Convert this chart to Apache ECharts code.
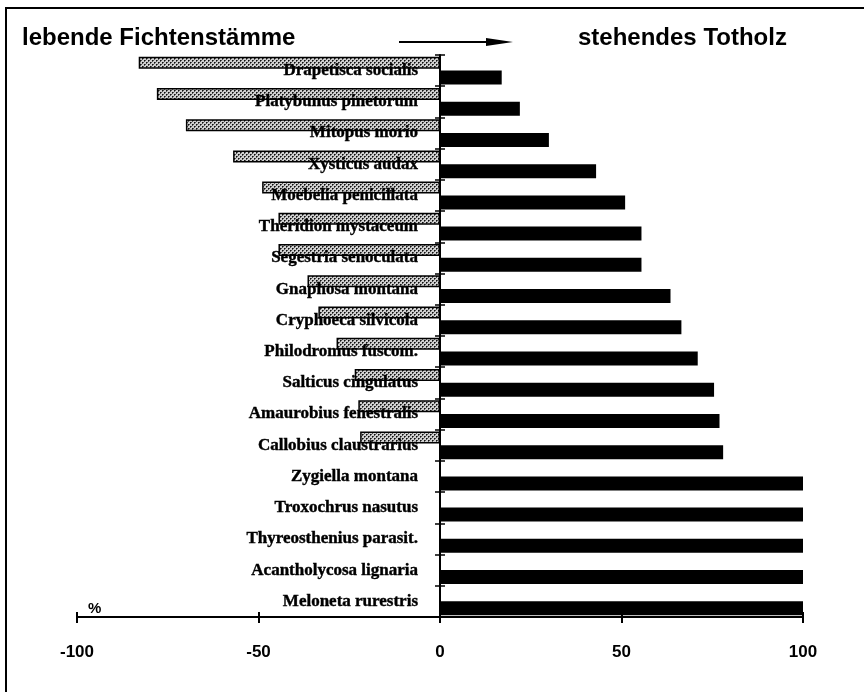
<!DOCTYPE html>
<html>
<head>
<meta charset="utf-8">
<script src="https://cdn.jsdelivr.net/npm/echarts@6/dist/echarts.min.js"></script>
<style>html,body{margin:0;padding:0;background:#fff}#c{width:864px;height:692px}</style>
</head>
<body>
<div id="c"></div>
<script>
// Species (top to bottom)
const species = [
  "Drapetisca socialis", "Platybunus pinetorum", "Mitopus morio", "Xysticus audax",
  "Moebelia penicillata", "Theridion mystaceum", "Segestria senoculata", "Gnaphosa montana",
  "Cryphoeca silvicola", "Philodromus fuscom.", "Salticus cingulatus", "Amaurobius fenestralis",
  "Callobius claustrarius", "Zygiella montana", "Troxochrus nasutus", "Thyreosthenius parasit.",
  "Acantholycosa lignaria", "Meloneta rurestris"
];
// % on living spruce trunks (drawn to the left)
const livingSpruce = [-83, -78, -70, -57, -49, -44.5, -44.5, -36.5, -33.5, -28.5, -23.5, -22.5, -22, 0, 0, 0, 0, 0];
// % on standing dead wood (drawn to the right)
const deadWood = [17, 22, 30, 43, 51, 55.5, 55.5, 63.5, 66.5, 71, 75.5, 77, 78, 100, 100, 100, 100, 100];
// x-axis tick labels
const xTicks = [-100, -50, 0, 50, 100];

function makePattern() {
  const c = document.createElement('canvas');
  c.width = 4; c.height = 4;
  const g = c.getContext('2d');
  g.fillStyle = '#cfcfcf';
  g.fillRect(0, 0, 4, 4);
  g.fillStyle = '#111';
  g.fillRect(0, 0, 1, 1);
  g.fillRect(2, 2, 1, 1);
  g.fillStyle = '#555';
  g.fillRect(1, 0, 1, 1);
  g.fillRect(3, 2, 1, 1);
  g.fillRect(0, 1, 1, 1);
  g.fillRect(2, 3, 1, 1);
  return c;
}

const chart = echarts.init(document.getElementById('c'), null, {renderer: 'canvas'});
const tickFont = {fontFamily: 'Liberation Sans', fontWeight: 'bold', color: '#000'};
const option = {
  backgroundColor: '#fff',
  animation: false,
  grid: {left: 77, right: 61, top: 55, bottom: 75, containLabel: false, outerBoundsMode: 'none'},
  xAxis: [{
    type: 'value', min: -100, max: 100, interval: 50,
    axisLine: {show: true, lineStyle: {color: '#000', width: 2}},
    axisTick: {show: true, length: 6, lineStyle: {color: '#000', width: 2}},
    axisLabel: {
      margin: 27, fontSize: 17, ...tickFont,
      formatter: v => xTicks.includes(v) ? String(v) : ''
    },
    splitLine: {show: false}
  }, {
    type: 'value', min: -100, max: 100, interval: 50, position: 'bottom',
    axisLine: {show: false},
    axisTick: {show: true, inside: true, length: 5, lineStyle: {color: '#000', width: 2}},
    axisLabel: {show: false}, splitLine: {show: false}
  }],
  yAxis: [{
    type: 'category', data: species, inverse: true, z: 10,
    axisLine: {show: true, onZero: true, lineStyle: {color: '#000', width: 2}},
    axisTick: {show: true, length: 5, lineStyle: {color: '#000', width: 1.5}},
    axisLabel: {
      margin: -341, align: 'right', padding: [5, 0, 0, 0],
      fontSize: 17, fontFamily: 'Liberation Serif', fontWeight: 'bold', color: '#000',
      textBorderColor: '#000', textBorderWidth: 0.4
    }
  }, {
    type: 'category', data: species, inverse: true, position: 'left', z: 10,
    axisLine: {show: false, onZero: true},
    axisTick: {show: true, inside: true, length: 5, lineStyle: {color: '#000', width: 1.5}},
    axisLabel: {show: false}
  }],
  series: [{
    name: 'lebende Fichtenstämme', type: 'bar', data: livingSpruce,
    barWidth: 12, barGap: '15%', z: 2,
    itemStyle: {color: {image: makePattern(), repeat: 'repeat'}, borderColor: '#000', borderWidth: 1.5}
  }, {
    name: 'stehendes Totholz', type: 'bar', data: deadWood,
    barWidth: 14, z: 2,
    itemStyle: {color: '#000'}
  }],
  graphic: [
    {type: 'rect', shape: {x: 6, y: 8, width: 900, height: 720}, style: {fill: null, stroke: '#000', lineWidth: 2}, z: 0},
    {type: 'text', left: 22, top: 26, style: {text: 'lebende Fichtenstämme', fontSize: 24, fontWeight: 'bold', fontFamily: 'Liberation Sans', fill: '#000'}},
    {type: 'text', left: 578, top: 26, style: {text: 'stehendes Totholz', fontSize: 24, fontWeight: 'bold', fontFamily: 'Liberation Sans', fill: '#000'}},
    {type: 'line', shape: {x1: 399, y1: 42, x2: 490, y2: 42}, style: {stroke: '#000', lineWidth: 2}},
    {type: 'polygon', shape: {points: [[486, 38], [513, 42], [486, 46]]}, style: {fill: '#000'}},
    {type: 'text', left: 88, top: 601, style: {text: '%', fontSize: 15, fontWeight: 'bold', fontFamily: 'Liberation Sans', fill: '#000'}}
  ]
};
chart.setOption(option);
</script>
</body>
</html>
